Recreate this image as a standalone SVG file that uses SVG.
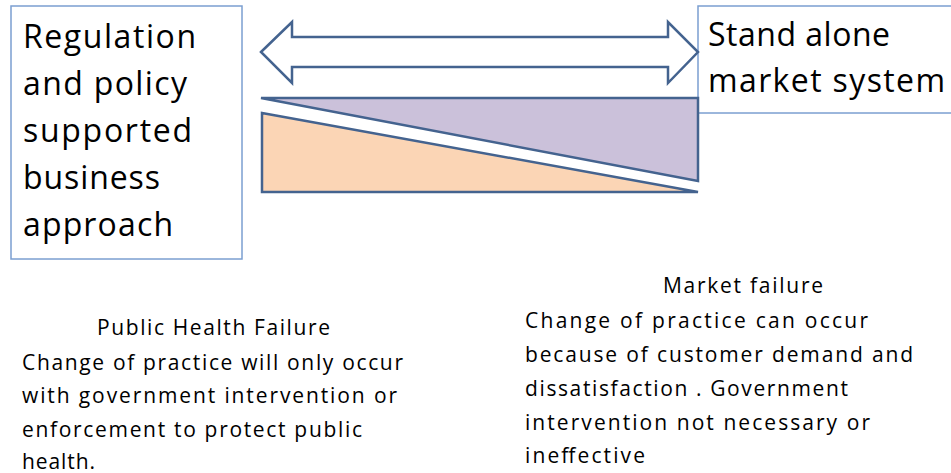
<svg xmlns="http://www.w3.org/2000/svg" width="951" height="473" viewBox="0 0 951 473">
  <style>
    .box { fill: #ffffff; stroke: #7b9fd1; stroke-width: 1.5; }
    .shape { stroke: #44638f; stroke-width: 2.5; stroke-linejoin: miter; }
    .big { font-family: "Open Sans", Lato, sans-serif; font-size: 32px; fill: #000; }
    .small { font-family: "Open Sans", Lato, sans-serif; font-size: 21px; fill: #000; }
  </style>
  <rect width="951" height="473" fill="#ffffff"/>

  <g id="regulation-box">
    <rect class="box" x="11" y="6" width="231" height="253"/>
    <text class="big" x="23" y="48" textLength="173">Regulation</text>
    <text class="big" x="23" y="95" textLength="164">and policy</text>
    <text class="big" x="23" y="142" textLength="169">supported</text>
    <text class="big" x="23" y="189" textLength="137">business</text>
    <text class="big" x="23" y="236" textLength="150">approach</text>
  </g>

  <g id="market-box">
    <rect class="box" x="698" y="6" width="260" height="107"/>
    <text class="big" x="708" y="46" textLength="182">Stand alone</text>
    <text class="big" x="708" y="92" textLength="237">market system</text>
  </g>

  <g id="connectors">
    <!-- double-headed block arrow between the two approaches -->
    <path class="shape" fill="#ffffff" d="M261,52 L292,22 L292,37 L668,37 L668,22 L698,52 L668,83 L668,67 L292,67 L292,83 Z"/>
  </g>

  <g id="market-wedge">
    <path class="shape" fill="#cbc1da" d="M261,98 L698,98 L698,181 Z"/>
  </g>

  <g id="regulation-wedge">
    <path class="shape" fill="#fbd5b5" d="M262,113 L698,192 L262,192 Z"/>
  </g>

  <g id="public-health-failure">
    <text class="small" x="97" y="335" textLength="233">Public Health Failure</text>
    <text class="small" x="22" y="370" textLength="381">Change of practice will only occur</text>
    <text class="small" x="22" y="403" textLength="375">with government intervention or</text>
    <text class="small" x="22" y="437" textLength="340">enforcement to protect public</text>
    <text class="small" x="22" y="469" textLength="73">health.</text>
  </g>

  <g id="market-failure">
    <text class="small" x="663" y="293" textLength="160">Market failure</text>
    <text class="small" x="525" y="328" textLength="343">Change of practice can  occur</text>
    <text class="small" x="525" y="362" textLength="388">because of customer demand and</text>
    <text class="small" x="525" y="396" textLength="323">dissatisfaction . Government</text>
    <text class="small" x="525" y="430" textLength="345">intervention not necessary or</text>
    <text class="small" x="525" y="463" textLength="120">ineffective</text>
  </g>
</svg>
